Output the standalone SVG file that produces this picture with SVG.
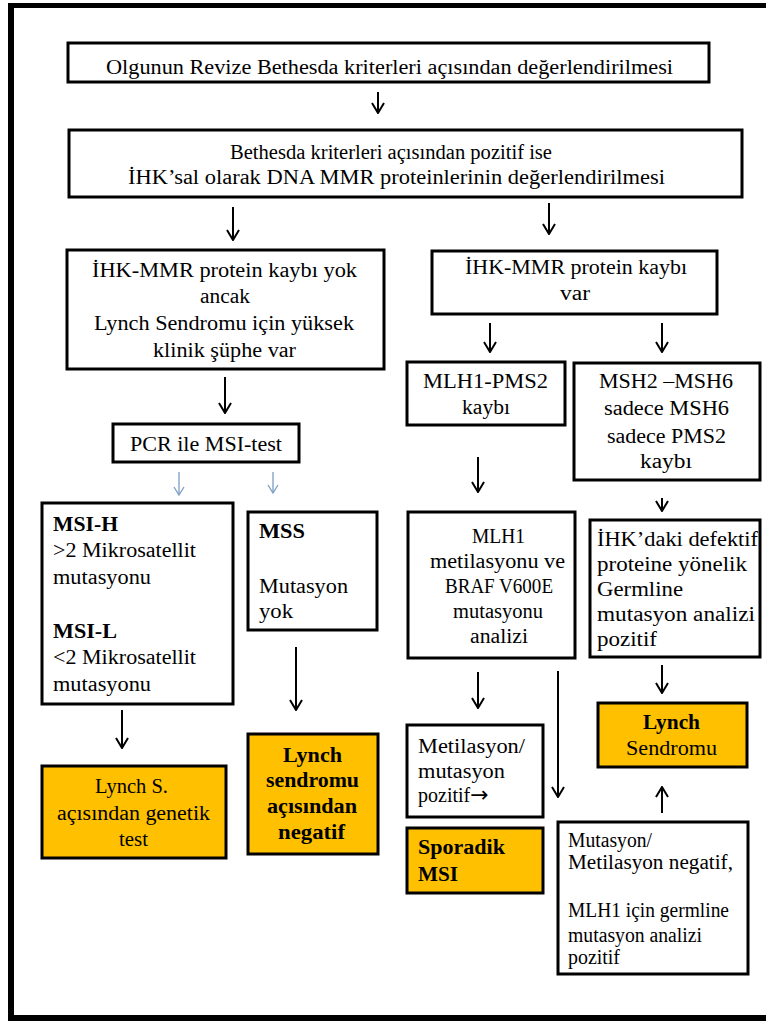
<svg xmlns="http://www.w3.org/2000/svg" width="766" height="1021" viewBox="0 0 766 1021">
<style>
.box{fill:#ffffff;stroke:#000000;stroke-width:3}
.hl{fill:#FFC000;stroke:#000000;stroke-width:3}
text{font-family:"Liberation Serif","Times New Roman",serif;font-size:20px;fill:#000000}
.b{font-weight:bold}
.arr{stroke:#000000;stroke-width:2;fill:none}
.barr{stroke:#7b9cc4;stroke-width:1.3;fill:none}
</style>
<defs>
<marker id="ah" viewBox="0 0 12 14" refX="11" refY="7" markerWidth="12" markerHeight="14" markerUnits="userSpaceOnUse" orient="auto">
<path d="M1,1 L11,7 L1,13" fill="none" stroke="#000000" stroke-width="2"/>
</marker>
<marker id="bh" viewBox="0 0 10 12" refX="9" refY="6" markerWidth="10" markerHeight="12" markerUnits="userSpaceOnUse" orient="auto">
<path d="M1,1 L9,6 L1,11" fill="none" stroke="#7b9cc4" stroke-width="1.3"/>
</marker>
</defs>
<rect x="0" y="0" width="766" height="1021" fill="#ffffff"/>
<g id="frame">
<rect x="8" y="3" width="758" height="5" fill="#000000"/>
<rect x="8" y="3" width="6" height="1018" fill="#000000"/>
<rect x="8" y="1015" width="758" height="6" fill="#000000"/>
</g>
<g id="connectors">
<path class="arr" d="M378,92 V113" marker-end="url(#ah)"/>
<path class="arr" d="M233,207 V240" marker-end="url(#ah)"/>
<path class="arr" d="M549,203 V234" marker-end="url(#ah)"/>
<path class="arr" d="M225,377 V413" marker-end="url(#ah)"/>
<path class="barr" d="M179,472 V495" marker-end="url(#bh)"/>
<path class="barr" d="M273,472 V493" marker-end="url(#bh)"/>
<path class="arr" d="M122,710 V748" marker-end="url(#ah)"/>
<path class="arr" d="M296,647 V710" marker-end="url(#ah)"/>
<path class="arr" d="M490,323 V352" marker-end="url(#ah)"/>
<path class="arr" d="M662,323 V352" marker-end="url(#ah)"/>
<path class="arr" d="M478,457 V492" marker-end="url(#ah)"/>
<path class="arr" d="M662,498 V511" marker-end="url(#ah)"/>
<path class="arr" d="M478,672 V708" marker-end="url(#ah)"/>
<path class="arr" d="M558,671 V797" marker-end="url(#ah)"/>
<path class="arr" d="M662,665 V693" marker-end="url(#ah)"/>
<path class="arr" d="M662,813 V787" marker-end="url(#ah)"/>
</g>
<g id="n1">
<rect class="box" x="68" y="43" width="641" height="39"/>
<text x="106" y="74" font-size="21" textLength="567" lengthAdjust="spacingAndGlyphs">Olgunun Revize Bethesda kriterleri açısından değerlendirilmesi</text>
</g>
<g id="n2">
<rect class="box" x="69" y="130" width="673" height="67" stroke-width="3.5"/>
<text x="230" y="159" font-size="21" textLength="322" lengthAdjust="spacingAndGlyphs">Bethesda kriterleri açısından pozitif ise</text>
<text x="128" y="184" font-size="21" textLength="537" lengthAdjust="spacingAndGlyphs">İHK’sal olarak DNA  MMR proteinlerinin değerlendirilmesi</text>
</g>
<g id="n3">
<rect class="box" x="67" y="250" width="317" height="119"/>
<text x="92" y="277" textLength="265" lengthAdjust="spacingAndGlyphs">İHK-MMR protein kaybı yok</text>
<text x="200" y="303" textLength="50" lengthAdjust="spacingAndGlyphs">ancak</text>
<text x="94" y="330" textLength="260" lengthAdjust="spacingAndGlyphs">Lynch Sendromu için yüksek</text>
<text x="153" y="357" textLength="143" lengthAdjust="spacingAndGlyphs">klinik şüphe var</text>
</g>
<g id="n4">
<rect class="box" x="113" y="424" width="186" height="38"/>
<text x="130" y="451" textLength="152" lengthAdjust="spacingAndGlyphs">PCR ile MSI-test</text>
</g>
<g id="n5">
<rect class="box" x="42" y="503" width="191" height="201"/>
<text class="b" x="53" y="531" textLength="65" lengthAdjust="spacingAndGlyphs">MSI-H</text>
<text x="53" y="557" textLength="143" lengthAdjust="spacingAndGlyphs">&gt;2 Mikrosatellit</text>
<text x="53" y="584" textLength="98" lengthAdjust="spacingAndGlyphs">mutasyonu</text>
<text class="b" x="53" y="638" textLength="64" lengthAdjust="spacingAndGlyphs">MSI-L</text>
<text x="53" y="664" textLength="143" lengthAdjust="spacingAndGlyphs">&lt;2 Mikrosatellit</text>
<text x="53" y="691" textLength="98" lengthAdjust="spacingAndGlyphs">mutasyonu</text>
</g>
<g id="n6">
<rect class="box" x="248" y="512" width="129" height="118"/>
<text class="b" x="259" y="538" textLength="46" lengthAdjust="spacingAndGlyphs">MSS</text>
<text x="259" y="593" textLength="89" lengthAdjust="spacingAndGlyphs">Mutasyon</text>
<text x="259" y="618" textLength="34" lengthAdjust="spacingAndGlyphs">yok</text>
</g>
<g id="n7">
<rect class="hl" x="42" y="766" width="184" height="92"/>
<text x="95" y="793" textLength="73" lengthAdjust="spacingAndGlyphs">Lynch S.</text>
<text x="57" y="820" textLength="153" lengthAdjust="spacingAndGlyphs">açısından genetik</text>
<text x="119" y="846" textLength="29" lengthAdjust="spacingAndGlyphs">test</text>
</g>
<g id="n8">
<rect class="hl" x="248" y="734" width="130" height="120"/>
<text class="b" x="283" y="762" textLength="59" lengthAdjust="spacingAndGlyphs">Lynch</text>
<text class="b" x="266" y="787" textLength="93" lengthAdjust="spacingAndGlyphs">sendromu</text>
<text class="b" x="267" y="813" textLength="90" lengthAdjust="spacingAndGlyphs">açısından</text>
<text class="b" x="278" y="839" textLength="67" lengthAdjust="spacingAndGlyphs">negatif</text>
</g>
<g id="n9">
<rect class="box" x="432" y="251" width="285" height="63"/>
<text x="465" y="274" textLength="222" lengthAdjust="spacingAndGlyphs">İHK-MMR protein kaybı</text>
<text x="560" y="300" textLength="30" lengthAdjust="spacingAndGlyphs">var</text>
</g>
<g id="n10">
<rect class="box" x="407" y="362" width="158" height="63"/>
<text x="423" y="388" font-size="21" textLength="125" lengthAdjust="spacingAndGlyphs">MLH1-PMS2</text>
<text x="462" y="414" font-size="21" textLength="48" lengthAdjust="spacingAndGlyphs">kaybı</text>
</g>
<g id="n11">
<rect class="box" x="574" y="363" width="186" height="117"/>
<text x="599" y="388" font-size="21" textLength="134" lengthAdjust="spacingAndGlyphs">MSH2 –MSH6</text>
<text x="604" y="415" font-size="21" textLength="125" lengthAdjust="spacingAndGlyphs">sadece MSH6</text>
<text x="607" y="443" font-size="21" textLength="119" lengthAdjust="spacingAndGlyphs">sadece PMS2</text>
<text x="640" y="468" font-size="21" textLength="52" lengthAdjust="spacingAndGlyphs">kaybı</text>
</g>
<g id="n12">
<rect class="box" x="408" y="512" width="167" height="146"/>
<text x="472" y="543" textLength="53" lengthAdjust="spacingAndGlyphs">MLH1</text>
<text x="430" y="568" textLength="135" lengthAdjust="spacingAndGlyphs">metilasyonu ve</text>
<text x="445" y="593" textLength="108" lengthAdjust="spacingAndGlyphs">BRAF V600E</text>
<text x="453" y="618" textLength="90" lengthAdjust="spacingAndGlyphs">mutasyonu</text>
<text x="470" y="643" textLength="58" lengthAdjust="spacingAndGlyphs">analizi</text>
</g>
<g id="n13">
<rect class="box" x="590" y="520" width="170" height="137"/>
<text x="597" y="546" textLength="161" lengthAdjust="spacingAndGlyphs">İHK’daki defektif</text>
<text x="597" y="571" textLength="150" lengthAdjust="spacingAndGlyphs">proteine yönelik</text>
<text x="597" y="596" textLength="86" lengthAdjust="spacingAndGlyphs">Germline</text>
<text x="597" y="621" textLength="158" lengthAdjust="spacingAndGlyphs">mutasyon analizi</text>
<text x="597" y="646" textLength="60" lengthAdjust="spacingAndGlyphs">pozitif</text>
</g>
<g id="n14">
<rect class="hl" x="598" y="703" width="149" height="64"/>
<text class="b" x="643" y="729" textLength="57" lengthAdjust="spacingAndGlyphs">Lynch</text>
<text x="626" y="755" textLength="91" lengthAdjust="spacingAndGlyphs">Sendromu</text>
</g>
<g id="n15">
<rect class="box" x="407" y="725" width="136" height="92"/>
<text x="418" y="753" textLength="107" lengthAdjust="spacingAndGlyphs">Metilasyon/</text>
<text x="418" y="778" textLength="87" lengthAdjust="spacingAndGlyphs">mutasyon</text>
<text x="418" y="802">pozitif<tspan font-family="'DejaVu Sans',sans-serif" font-size="22">→</tspan></text>
</g>
<g id="n16">
<rect class="hl" x="407" y="828" width="136" height="65"/>
<text class="b" x="418" y="854" textLength="87" lengthAdjust="spacingAndGlyphs">Sporadik</text>
<text class="b" x="418" y="881" textLength="40" lengthAdjust="spacingAndGlyphs">MSI</text>
</g>
<g id="n17">
<rect class="box" x="558" y="822" width="190" height="152"/>
<text x="568" y="847" textLength="84" lengthAdjust="spacingAndGlyphs">Mutasyon/</text>
<text x="568" y="869" textLength="165" lengthAdjust="spacingAndGlyphs">Metilasyon negatif,</text>
<text x="568" y="917" textLength="161" lengthAdjust="spacingAndGlyphs">MLH1 için germline</text>
<text x="568" y="942" textLength="134" lengthAdjust="spacingAndGlyphs">mutasyon analizi</text>
<text x="568" y="964" textLength="52" lengthAdjust="spacingAndGlyphs">pozitif</text>
</g>
</svg>
